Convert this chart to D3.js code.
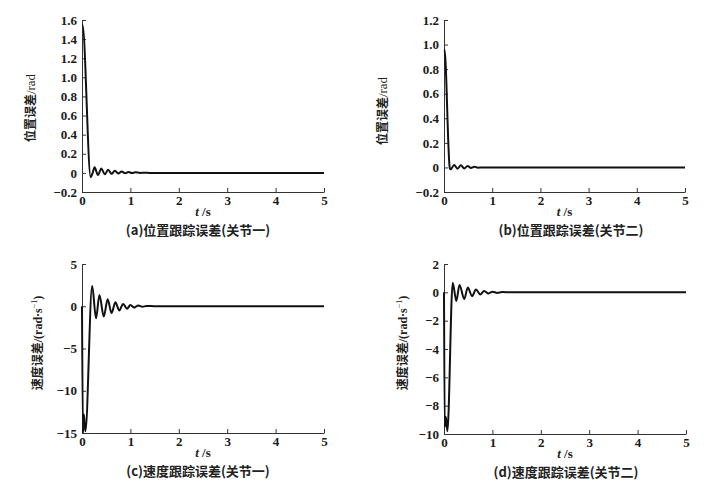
<!DOCTYPE html>
<html>
<head>
<meta charset="utf-8">
<script src="https://cdn.jsdelivr.net/npm/d3@7"></script>
<style>
  body { margin: 0; background: #fff; }
  svg { display: block; }
  .axis path, .axis line { stroke: #333; }
</style>
</head>
<body>
<div id="chart"></div>
<script>
// x ticks shared by all panels
const xTicks = [0, 1, 2, 3, 4, 5];

// (a) position error, joint 1
const tA = [0, 0.01, 0.18, 0.22, 0.26, 0.33, 0.40, 0.47, 0.54, 0.61, 0.68, 0.75, 0.82, 0.89, 0.96, 1.03, 1.10, 1.20, 1.30, 1.40, 5];
const eA = [1.55, 1.55, -0.045, 0.0, 0.058, -0.022, 0.045, -0.015, 0.032, -0.01, 0.022, -0.007, 0.015, -0.004, 0.01, -0.002, 0.006, 0.0, 0.002, 0.0, 0.0];
const yTicksA = [-0.2, 0, 0.2, 0.4, 0.6, 0.8, 1.0, 1.2, 1.4, 1.6];

// (b) position error, joint 2
const tB = [0, 0.01, 0.12, 0.14, 0.21, 0.28, 0.35, 0.42, 0.49, 0.56, 0.63, 0.70, 0.80, 5];
const eB = [0.96, 0.96, -0.005, -0.015, 0.02, -0.01, 0.017, -0.008, 0.012, -0.004, 0.006, -0.002, 0.0, 0.0];
const yTicksB = [-0.2, 0, 0.2, 0.4, 0.6, 0.8, 1.0, 1.2];

// (c) velocity error, joint 1
const tC = [0, 0.02, 0.04, 0.07, 0.21, 0.29, 0.36, 0.45, 0.53, 0.61, 0.69, 0.77, 0.85, 0.93, 1.0, 1.08, 1.16, 1.25, 1.33, 1.5, 5];
const eC = [0, -15, -12.8, -14.8, 2.4, -1.42, 1.34, -1.22, 0.83, -0.8, 0.47, -0.5, 0.28, -0.3, 0.15, -0.15, 0.08, -0.07, 0.03, 0, 0];
const yTicksC = [-15, -10, -5, 0, 5];

// (d) velocity error, joint 2
const tD = [0, 0.015, 0.04, 0.07, 0.18, 0.255, 0.32, 0.42, 0.49, 0.58, 0.66, 0.75, 0.83, 0.92, 1.0, 1.1, 1.2, 1.4, 5];
const eD = [0, -9.5, -8.8, -9.8, 0.68, -0.61, 0.52, -0.47, 0.35, -0.26, 0.2, -0.15, 0.1, -0.08, 0.05, -0.04, 0.02, 0, 0];
const yTicksD = [-10, -8, -6, -4, -2, 0, 2];

const panels = [
  { t: tA, e: eA, yTicks: yTicksA, yDom: [-0.2, 1.6], x0: 82, x1: 324, y0: 192, y1: 20,
    fmt: d => d === 0 ? "0" : d3.format(".1f")(d), vel: false, lx: 35, ly: 108,
    caption: "(a)位置跟踪误差(关节一)", cx: 198, tl: 216, cy: 235 },
  { t: tB, e: eB, yTicks: yTicksB, yDom: [-0.2, 1.2], x0: 444, x1: 685, y0: 192, y1: 20,
    fmt: d => d === 0 ? "0" : d3.format(".1f")(d), vel: false, lx: 387, ly: 111,
    caption: "(b)位置跟踪误差(关节二)", cx: 571, tl: 216, cy: 235 },
  { t: tC, e: eC, yTicks: yTicksC, yDom: [-15, 5], x0: 82, x1: 324, y0: 433, y1: 264,
    fmt: d3.format("d"), vel: true, lx: 42, ly: 343,
    caption: "(c)速度跟踪误差(关节一)", cx: 198, tl: 457, cy: 476 },
  { t: tD, e: eD, yTicks: yTicksD, yDom: [-10, 2], x0: 444, x1: 686, y0: 434, y1: 264,
    fmt: d3.format("d"), vel: true, lx: 407, ly: 343,
    caption: "(d)速度跟踪误差(关节二)", cx: 566, tl: 458, cy: 477 }
];

const svg = d3.select("#chart").append("svg")
  .attr("width", 720)
  .attr("height", 492);

const cjk = '"Noto Sans CJK SC", sans-serif';
const serif = '"Liberation Serif", "Times New Roman", serif';

panels.forEach(p => {
  const x = d3.scaleLinear().domain([0, 5]).range([p.x0, p.x1]);
  const y = d3.scaleLinear().domain(p.yDom).range([p.y0, p.y1]);

  const gx = svg.append("g")
    .attr("class", "axis")
    .attr("transform", `translate(0,${p.y0})`)
    .call(d3.axisBottom(x).tickValues(xTicks).tickFormat(d3.format("d"))
      .tickSizeInner(-4).tickSizeOuter(0).tickPadding(4));

  const gy = svg.append("g")
    .attr("class", "axis")
    .attr("transform", `translate(${p.x0},0)`)
    .call(d3.axisLeft(y).tickValues(p.yTicks).tickFormat(p.fmt)
      .tickSizeInner(-4).tickSizeOuter(0).tickPadding(5));

  [gx, gy].forEach(g => {
    g.attr("font-family", serif).attr("font-size", 13);
    g.selectAll("text")
      .style("font-family", serif)
      .style("font-weight", "bold")
      .style("font-size", "13px")
      .attr("fill", "#1a1a1a");
  });

  const pts = p.t.map((t, i) => [t, p.e[i]]);
  const line = d3.line()
    .x(d => x(d[0]))
    .y(d => y(d[1]))
    .curve(d3.curveMonotoneX);

  svg.append("path")
    .datum(pts)
    .attr("d", line)
    .attr("fill", "none")
    .attr("stroke", "#111")
    .attr("stroke-width", 2);

  // y label
  const yl = svg.append("text")
    .attr("transform", `translate(${p.lx},${p.ly}) rotate(-90)`)
    .attr("text-anchor", "middle")
    .style("font-size", "12px")
    .attr("fill", "#222");
  if (p.vel) {
    yl.append("tspan").style("font-family", cjk).style("font-weight", "bold").text("速度误差");
    yl.append("tspan").style("font-family", serif).style("font-weight", "bold").text("/(rad·s");
    yl.append("tspan").attr("dy", -5).style("font-family", serif).style("font-size", "8px").text("−1");
    yl.append("tspan").attr("dy", 5).style("font-family", serif).style("font-weight", "bold").text(")");
  } else {
    yl.append("tspan").style("font-family", cjk).style("font-weight", "bold").text("位置误差");
    yl.append("tspan").style("font-family", serif).style("font-size", "13px").text("/rad");
  }

  // x label
  const xl = svg.append("text")
    .attr("x", (p.x0 + p.x1) / 2)
    .attr("y", p.tl)
    .attr("text-anchor", "middle")
    .style("font-family", serif)
    .style("font-weight", "bold")
    .style("font-size", "13px")
    .attr("fill", "#222");
  xl.append("tspan").style("font-style", "italic").text("t");
  xl.append("tspan").text(" /s");

  // caption
  svg.append("text")
    .attr("x", p.cx)
    .attr("y", p.cy)
    .attr("text-anchor", "middle")
    .style("font-family", cjk)
    .style("font-weight", "bold")
    .style("font-size", "13px")
    .attr("fill", "#222")
    .text(p.caption);
});
</script>
</body>
</html>
